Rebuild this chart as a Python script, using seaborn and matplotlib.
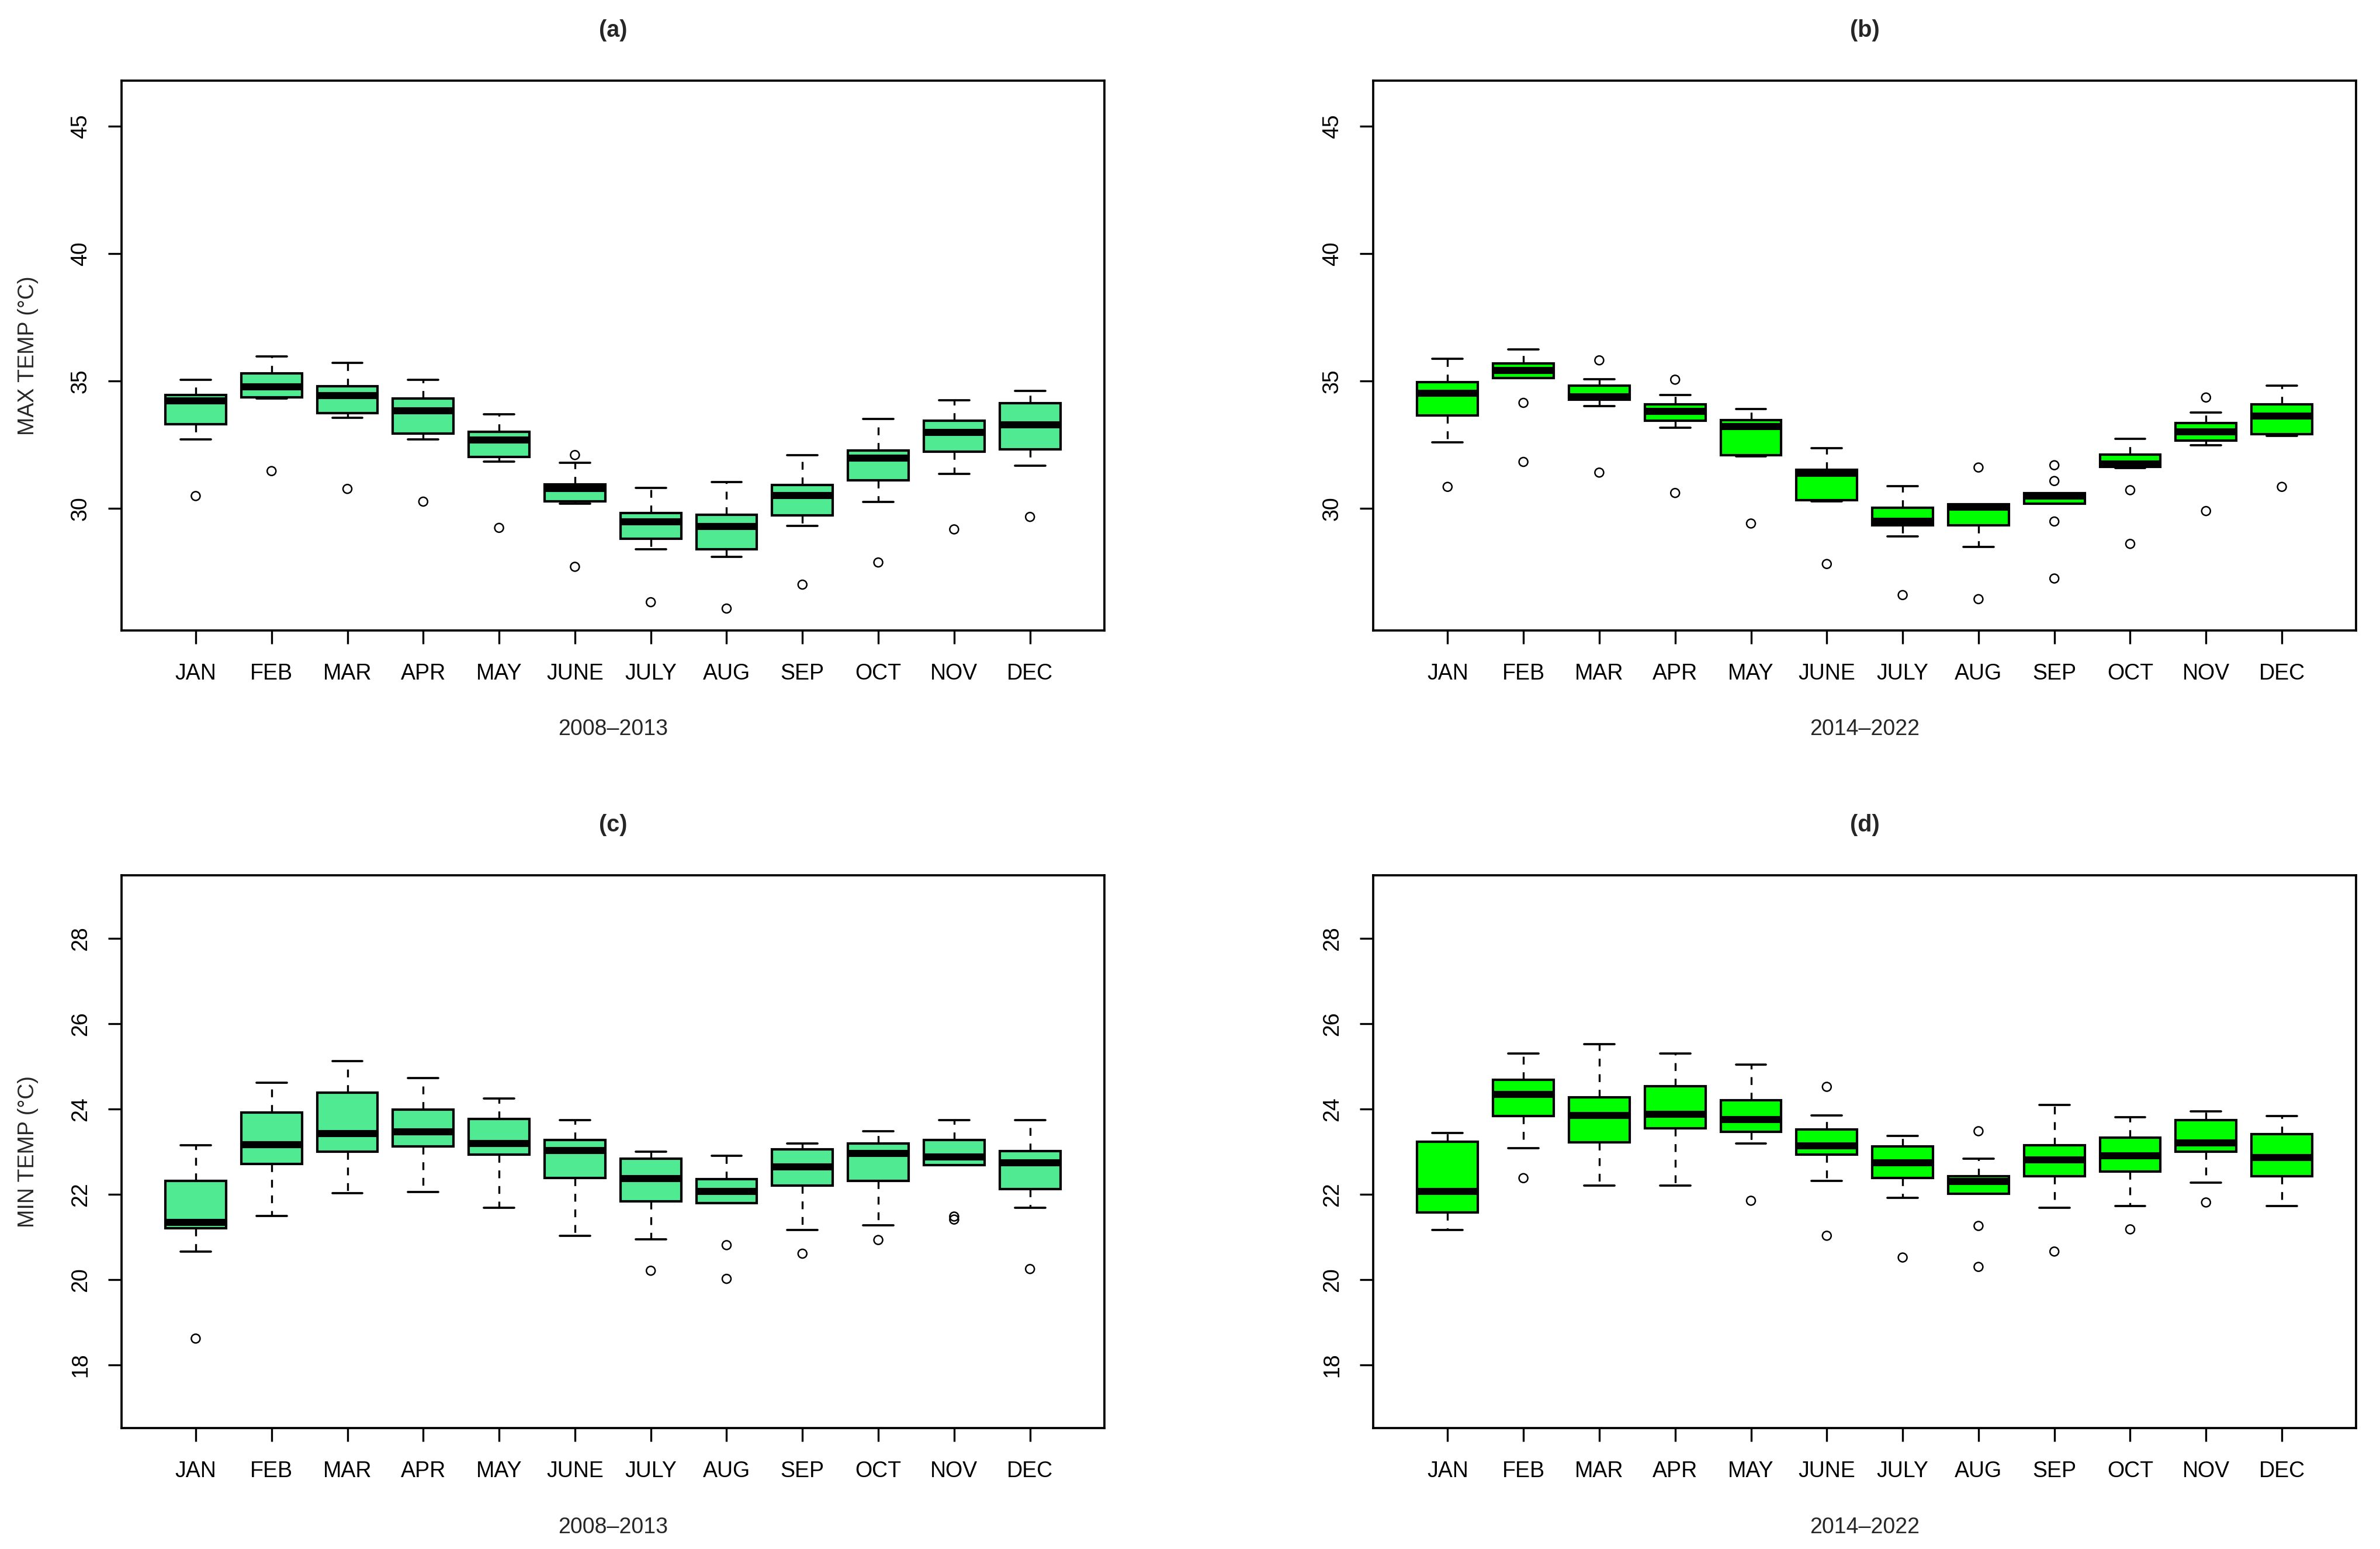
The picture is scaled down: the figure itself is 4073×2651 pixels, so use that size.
"""
Boxplots mensuels des températures max / min, deux périodes (2008-2013, 2014-2022)
"""
import numpy as np
import pandas as pd
import matplotlib
matplotlib.use("Agg")
import matplotlib.pyplot as plt
import seaborn as sns

# ── Données ─────────────────────────────────────────────────────────────────
months = ["JAN", "FEB", "MAR", "APR", "MAY", "JUNE",
          "JULY", "AUG", "SEP", "OCT", "NOV", "DEC"]

# (a) MAX TEMP 2008-2013
whislo_a = [32.70, 34.31, 33.56, 32.70, 31.84, 30.17, 28.39, 28.08, 29.31, 30.24, 31.35, 31.66]
q1_a     = [33.31, 34.36, 33.73, 32.93, 32.01, 30.28, 28.81, 28.38, 29.73, 31.10, 32.22, 32.32]
med_a    = [34.21, 34.76, 34.42, 33.84, 32.67, 30.78, 29.47, 29.29, 30.51, 31.96, 32.98, 33.28]
q3_a     = [34.44, 35.30, 34.80, 34.32, 33.01, 30.93, 29.81, 29.75, 30.92, 32.27, 33.44, 34.12]
whishi_a = [35.04, 35.97, 35.72, 35.04, 33.69, 31.78, 30.79, 31.04, 32.09, 33.50, 34.24, 34.61]
out_a = [[30.48], [31.46], [30.76], [30.26], [29.23], [32.09, 27.70],
         [26.31], [26.06], [27.00], [27.87], [29.17], [29.66]]

# (b) MAX TEMP 2014-2022
whislo_b = [32.60, 35.12, 34.02, 33.16, 32.05, 30.27, 28.90, 28.47, 30.19, 31.59, 32.48, 32.84]
q1_b     = [33.64, 35.12, 34.27, 33.45, 32.09, 30.32, 29.32, 29.33, 30.19, 31.62, 32.65, 32.91]
med_b    = [34.52, 35.41, 34.39, 33.80, 33.20, 31.37, 29.49, 30.04, 30.48, 31.75, 33.01, 33.62]
q3_b     = [34.95, 35.69, 34.82, 34.09, 33.47, 31.50, 30.02, 30.15, 30.59, 32.11, 33.35, 34.09]
whishi_b = [35.87, 36.23, 35.07, 34.45, 33.89, 32.35, 30.87, 30.15, 30.59, 32.72, 33.77, 34.82]
out_b = [[30.84], [34.14, 31.82], [35.81, 31.40], [35.05, 30.60], [29.40], [27.81],
         [26.59], [31.60, 26.43], [31.69, 31.07, 29.48, 27.24], [30.71, 28.60],
         [34.35, 29.89], [30.84]]

# (c) MIN TEMP 2008-2013
whislo_c = [20.66, 21.50, 22.03, 22.06, 21.68, 21.03, 20.95, 21.79, 21.17, 21.28, 22.68, 21.69]
q1_c     = [21.21, 22.71, 23.00, 23.12, 22.93, 22.38, 21.84, 21.79, 22.20, 22.31, 22.68, 22.13]
med_c    = [21.35, 23.17, 23.43, 23.46, 23.19, 23.03, 22.37, 22.07, 22.65, 22.96, 22.88, 22.74]
q3_c     = [22.32, 23.92, 24.39, 23.99, 23.77, 23.27, 22.83, 22.35, 23.05, 23.19, 23.27, 23.01]
whishi_c = [23.15, 24.61, 25.12, 24.72, 24.24, 23.74, 23.00, 22.90, 23.19, 23.48, 23.74, 23.74]
out_c = [[18.62], [], [], [], [], [], [20.21], [20.81, 20.02], [20.61], [20.93],
         [21.48, 21.41], [20.25]]

# (d) MIN TEMP 2014-2022
whislo_d = [21.17, 23.08, 22.21, 22.21, 23.19, 22.32, 21.92, 22.02, 21.68, 21.72, 22.28, 21.72]
q1_d     = [21.57, 23.84, 23.22, 23.55, 23.47, 22.93, 22.38, 22.02, 22.42, 22.53, 23.00, 22.42]
med_d    = [22.07, 24.34, 23.85, 23.87, 23.76, 23.14, 22.74, 22.30, 22.81, 22.90, 23.21, 22.86]
q3_d     = [23.23, 24.69, 24.28, 24.54, 24.21, 23.52, 23.12, 22.42, 23.15, 23.33, 23.74, 23.41]
whishi_d = [23.44, 25.30, 25.52, 25.30, 25.04, 23.85, 23.37, 22.83, 24.10, 23.81, 23.95, 23.84]
out_d = [[], [22.38], [], [], [21.85], [24.52, 21.03], [20.52], [23.48, 21.26, 20.30],
         [20.66], [21.18], [21.81], []]

# ── Style ───────────────────────────────────────────────────────────────────
sns.set_theme(style="white")
plt.rcParams["font.family"] = ["Liberation Sans", "DejaVu Sans"]
plt.rcParams["font.size"] = 9

col_old = "#50EA92"   # seagreen2-ish
col_new = "#00FF00"   # green

panels = [
    dict(tag="(a)", stats=(whislo_a, q1_a, med_a, q3_a, whishi_a), out=out_a,
         color=col_old, ylab="MAX TEMP (°C)", xlab="2008–2013",
         ylim=(26, 46), yticks=[30, 35, 40, 45], rect=[0.051, 0.593, 0.413, 0.355]),
    dict(tag="(b)", stats=(whislo_b, q1_b, med_b, q3_b, whishi_b), out=out_b,
         color=col_new, ylab=None, xlab="2014–2022",
         ylim=(26, 46), yticks=[30, 35, 40, 45], rect=[0.577, 0.593, 0.413, 0.355]),
    dict(tag="(c)", stats=(whislo_c, q1_c, med_c, q3_c, whishi_c), out=out_c,
         color=col_old, ylab="MIN TEMP (°C)", xlab="2008–2013",
         ylim=(17, 29), yticks=[18, 20, 22, 24, 26, 28], rect=[0.051, 0.078, 0.413, 0.357]),
    dict(tag="(d)", stats=(whislo_d, q1_d, med_d, q3_d, whishi_d), out=out_d,
         color=col_new, ylab=None, xlab="2014–2022",
         ylim=(17, 29), yticks=[18, 20, 22, 24, 26, 28], rect=[0.577, 0.078, 0.413, 0.357]),
]

fig = plt.figure(figsize=(4073 / 300, 2651 / 300), dpi=300)
fig.patch.set_facecolor("white")

pos = np.arange(1, len(months) + 1)

for p in panels:
    ax = fig.add_axes(p["rect"])
    lo, q1, med, q3, hi = p["stats"]
    bstats = [dict(whislo=lo[i], q1=q1[i], med=med[i], q3=q3[i], whishi=hi[i], fliers=[])
              for i in range(len(months))]
    ax.bxp(bstats, positions=pos, widths=0.8, capwidths=0.4, patch_artist=True,
           showfliers=False,
           boxprops=dict(facecolor=p["color"], edgecolor="black", linewidth=1.0),
           medianprops=dict(color="black", linewidth=2.9, solid_capstyle="butt"),
           whiskerprops=dict(color="black", linewidth=0.8, linestyle=(0, (4, 4))),
           capprops=dict(color="black", linewidth=0.9))

    # valeurs extrêmes
    df_out = pd.DataFrame([(pos[i], v) for i, vals in enumerate(p["out"]) for v in vals],
                          columns=["pos", "val"])
    sns.scatterplot(data=df_out, x="pos", y="val", ax=ax, marker="o", s=13,
                    facecolors="none", edgecolor="black", linewidth=0.6, zorder=4)

    # axes façon R (expansion 4 %)
    y0, y1 = p["ylim"]
    dy = (y1 - y0) * 0.04
    ax.set_ylim(y0 - dy, y1 + dy)
    ax.set_xlim(0.5 - 0.48, 12.5 + 0.48)
    ax.set_xticks(pos)
    ax.set_xticklabels(months)
    ax.set_yticks(p["yticks"])
    ax.set_yticklabels([str(t) for t in p["yticks"]], rotation=90, va="center")
    ax.tick_params(axis="both", which="major", direction="out", length=5.5, width=0.8,
                   color="black", labelsize=9, labelcolor="black", bottom=True, left=True)
    ax.tick_params(axis="x", pad=8)
    ax.tick_params(axis="y", pad=7)
    for s in ax.spines.values():
        s.set_visible(True)
        s.set_color("black")
        s.set_linewidth(0.9)
    ax.grid(False)

    ax.set_title(p["tag"], fontsize=9.5, fontweight="bold", pad=18)
    ax.set_xlabel(p["xlab"], fontsize=9)
    ax.xaxis.set_label_coords(0.5, -0.16)
    if p["ylab"]:
        ax.set_ylabel(p["ylab"], fontsize=9)
        ax.yaxis.set_label_coords(-0.084, 0.5)
    else:
        ax.set_ylabel("")

fig.savefig("out.png", dpi=300, facecolor="white")
plt.close()
print("saved out.png")
